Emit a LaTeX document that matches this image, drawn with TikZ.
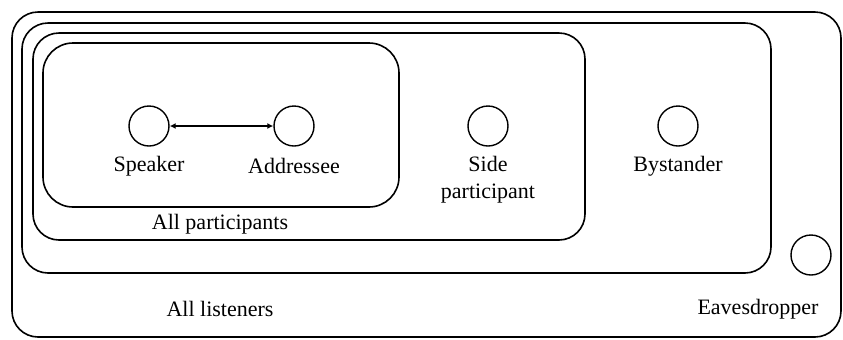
\documentclass[tikz,border=0pt]{standalone}
\usepackage{fontspec}
\setmainfont{Liberation Serif}
\usetikzlibrary{arrows.meta}

\begin{document}
\begin{tikzpicture}[
  x = 0.5pt, y = -0.5pt,
  every node/.style = {font = \fontsize{11}{13.5}\selectfont},
  person/.style = {draw, circle, minimum size = 20pt, inner sep = 0pt, line width = 0.7pt},
  group/.style = {draw, line width = 0.8pt, rounded corners = 13pt},
  role/.style = {align = center},
  ]
  \useasboundingbox (0,0) rectangle (843,339);

  % nested groups
  \draw[group] (12,12) rectangle (841,337);
  \draw[group] (22,23) rectangle (771,273);
  \draw[group] (33,33) rectangle (585,240);
  \draw[group, rounded corners = 15pt] (43,43) rectangle (399,207);

  % people
  \node[person] (speaker)   at (149,126) {};
  \node[person] (addressee) at (294,126) {};
  \node[person] (side)      at (488,126) {};
  \node[person] (bystander) at (678,126) {};
  \node[person] (eaves)     at (811,255) {};

  \draw[{Latex[length=3pt,width=3pt]}-{Latex[length=3pt,width=3pt]}, line width = 0.6pt]
    (speaker) -- (addressee);

  % labels
  \node[role] (speakerlbl)   at (149,166) {Speaker};
  \node[role] (addresseelbl) at (294,166) {Addressee};
  \node[role] (sidelbl)      at (488,180) {Side\\participant};
  \node[role] (bystanderlbl) at (678,166) {Bystander};
  \node[role] (eaveslbl)     at (758,309) {Eavesdropper};
  \node[role] (partlbl)      at (220,224) {All participants};
  \node[role] (listenlbl)    at (220,309) {All listeners};
\end{tikzpicture}
\end{document}
